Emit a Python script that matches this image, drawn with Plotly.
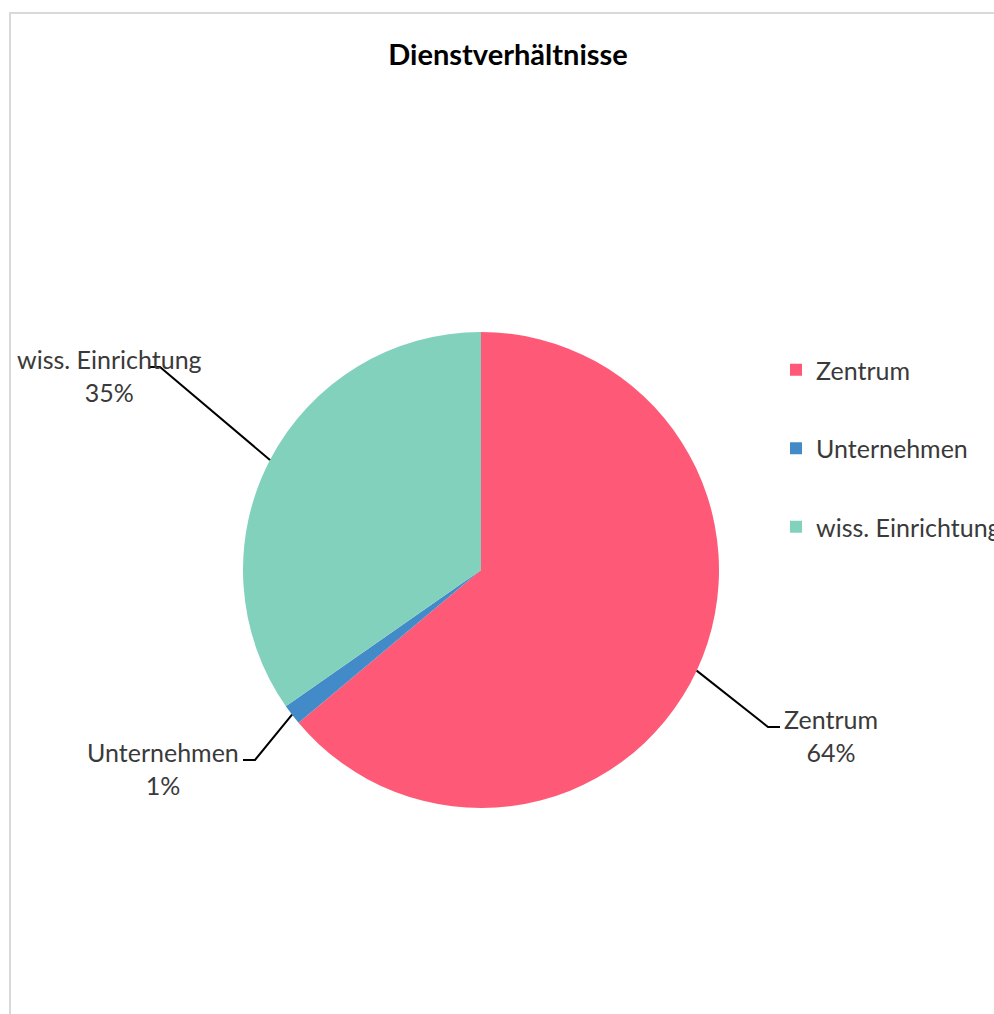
import math
import plotly.graph_objects as go

W, H = 994, 1014

categories = ["Zentrum", "Unternehmen", "wiss. Einrichtung"]
values = [63.9, 1.4, 34.7]
colors = ["#FE5A77", "#438BC8", "#82D1BD"]

FONT = "Lato"

# pie geometry in pixels
cx, cy, r = 481, 570, 238

def px(x):
    return x / W

def py(y):
    return 1 - y / H

fig = go.Figure()
fig.add_trace(go.Pie(
    labels=categories, values=values, sort=False, direction="clockwise",
    rotation=0, textinfo="none", hoverinfo="label+percent",
    marker=dict(colors=colors, line=dict(width=0)),
    domain=dict(x=[px(cx - r), px(cx + r)], y=[py(cy + r), py(cy - r)]),
    showlegend=False,
))

# legend via dummy traces for custom spacing
for cat, col in zip(categories, colors):
    fig.add_trace(go.Scatter(
        x=[None], y=[None], mode="markers", name=cat, legendgroup=cat,
        marker=dict(symbol="square", size=12, color=col),
    ))

# outside labels with leader lines
total = sum(values)
label_pos = {
    "Zentrum": (831, 735, (780, 727), (768, 727)),
    "Unternehmen": (163, 768, (243, 760), (255, 760)),
    "wiss. Einrichtung": (109, 375, (150, 367), (160, 367)),
}
cum = 0
for cat, v in zip(categories, values):
    mid = (cum + v / 2) / total * 2 * math.pi
    cum += v
    sx = cx + r * math.sin(mid)
    sy = cy - r * math.cos(mid)
    lx, ly, end, knee = label_pos[cat]
    pct = round(v / total * 100)
    fig.add_annotation(
        x=px(lx), y=py(ly), xref="paper", yref="paper",
        text=f"{cat}<br>{pct}%", showarrow=False, align="center",
        font=dict(family=FONT, size=25, color="#3A3A3A"),
        xanchor="center", yanchor="middle",
    )
    fig.add_shape(
        type="path", xref="paper", yref="paper",
        path=f"M {px(sx)} {py(sy)} L {px(knee[0])} {py(knee[1])} L {px(end[0])} {py(end[1])}",
        line=dict(color="black", width=2),
    )

# chart border
fig.add_shape(type="rect", xref="paper", yref="paper",
              x0=px(10), x1=1.2, y0=-0.2, y1=py(13),
              line=dict(color="#D9D9D9", width=2))

fig.update_layout(
    width=W, height=H,
    margin=dict(l=0, r=0, t=0, b=0, autoexpand=False),
    paper_bgcolor="white", plot_bgcolor="white",
    title=dict(text="<b>Dienstverhältnisse</b>", x=508 / W, xanchor="center",
               y=py(55), yanchor="middle",
               font=dict(family=FONT, size=29, color="black")),
    xaxis=dict(visible=False), yaxis=dict(visible=False),
    legend=dict(x=px(776), y=py(347), xanchor="left", yanchor="top",
                font=dict(family=FONT, size=25, color="#3A3A3A"),
                tracegroupgap=43, itemwidth=30, bgcolor="rgba(0,0,0,0)"),
)

fig.write_html("out.html")
